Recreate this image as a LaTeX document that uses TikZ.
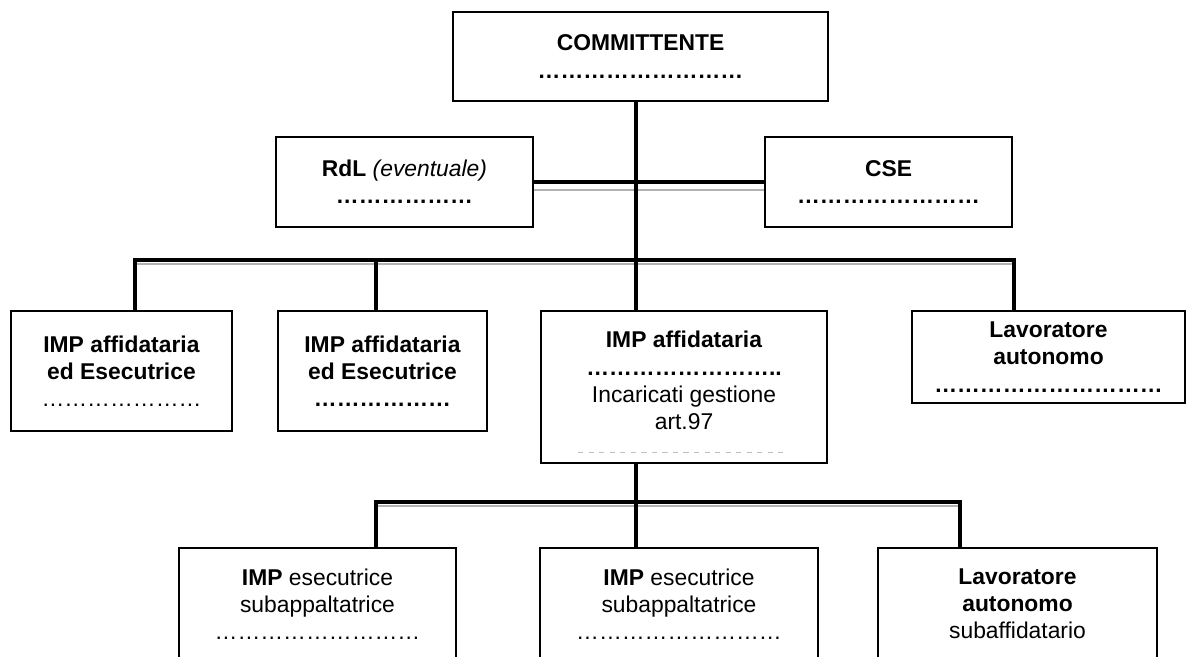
\documentclass[tikz,border=0pt]{standalone}
\usepackage{fontspec}
\setmainfont{Liberation Sans}
\newcommand{\puntini}[1]{\foreach\k in {1,...,#1}{…}}
\tikzset{
  riquadro/.style={draw, line width=1pt, align=center, inner sep=0pt,
    font=\fontsize{13}{15.5}\selectfont},
  filo/.style={line width=2.8pt},
  ombra/.style={line width=1.2pt, gray!60},
}

\begin{document}
\begin{tikzpicture}[x=0.02cm,y=-0.02cm]
  \useasboundingbox (0,0) rectangle (1186,656);
  \clip (0,0) rectangle (1186,656);
  % riquadri
  \node[riquadro, minimum width=7.5cm, minimum height=1.78cm] (comm) at (640.5,56.5)
    {\textbf{COMMITTENTE}\\ \textbf{\puntini{9}}};
  \node[riquadro, minimum width=5.14cm, minimum height=1.8cm] (rdl) at (404.5,182)
    {\textbf{RdL} \textit{(eventuale)}\\ \textbf{\puntini{6}}};
  \node[riquadro, minimum width=4.94cm, minimum height=1.8cm] (cse) at (888.5,182)
    {\textbf{CSE}\\ \textbf{\puntini{8}}};
  \node[riquadro, minimum width=4.42cm, minimum height=2.4cm] (aff1) at (121.5,371)
    {\textbf{IMP affidataria}\\ \textbf{ed Esecutrice}\\ \puntini{7}};
  \node[riquadro, minimum width=4.18cm, minimum height=2.4cm] (aff2) at (382.5,371)
    {\textbf{IMP affidataria}\\ \textbf{ed Esecutrice}\\ \textbf{\puntini{6}}};
  \node[riquadro, minimum width=5.72cm, minimum height=3.04cm] (aff3) at (684,387)
    {\textbf{IMP affidataria}\\ \textbf{\puntini{8}..}\\ Incaricati gestione\\ art.97\\[-8pt]\mbox{}};
  \node[riquadro, minimum width=5.46cm, minimum height=1.84cm] (lav) at (1048.5,357)
    {\textbf{Lavoratore}\\ \textbf{autonomo}\\ \textbf{\puntini{10}}};
  \node[riquadro, minimum width=5.54cm, minimum height=2.24cm] (esec1) at (317.5,604)
    {\textbf{IMP} esecutrice\\ subappaltatrice\\ \puntini{9}};
  \node[riquadro, minimum width=5.56cm, minimum height=2.24cm] (esec2) at (679,604)
    {\textbf{IMP} esecutrice\\ subappaltatrice\\ \puntini{9}};
  \node[riquadro, minimum width=5.58cm, minimum height=2.24cm] (lavsub) at (1017.5,604)
    {\textbf{Lavoratore}\\ \textbf{autonomo}\\ subaffidatario};
  \draw[gray!50, very thin, dashed] (578,452) -- (783,452);

  % collegamenti
  \coordinate (nodo1) at (636,260);
  \coordinate (p1) at (135,260);
  \coordinate (p2) at (376,260);
  \coordinate (p4) at (1014,260);
  \coordinate (nodo2) at (636,502);
  \coordinate (q1) at (376,502);
  \coordinate (q3) at (960,502);

  \draw[ombra] ([yshift=-1.6mm]rdl.east) -- ([yshift=-1.6mm]cse.west);
  \draw[filo] (rdl.east) -- (cse.west);
  \draw[filo] (comm.south -| nodo1) -- (nodo1);

  \draw[ombra] ([yshift=-0.8mm]p1) -- ([yshift=-0.8mm]p4);
  \draw[filo] (p1 |- aff1.north) -- (p1) -- (p4) -- (p4 |- lav.north);
  \draw[filo] (p2) -- (p2 |- aff2.north);
  \draw[filo] (nodo1) -- (nodo1 |- aff3.north);

  \draw[filo] (aff3.south -| nodo2) -- (nodo2);
  \draw[ombra] ([yshift=-0.8mm]q1) -- ([yshift=-0.8mm]q3);
  \draw[filo] (q1 |- esec1.north) -- (q1) -- (q3) -- (q3 |- lavsub.north);
  \draw[filo] (nodo2) -- (nodo2 |- esec2.north);
\end{tikzpicture}
\end{document}
